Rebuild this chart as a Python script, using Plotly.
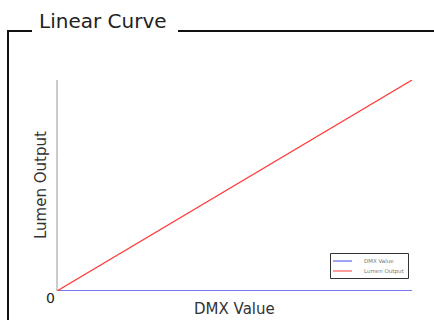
import plotly.graph_objects as go

# DMX input range and corresponding series
dmx_values = [0, 255]
lumen_output = [0, 100]
dmx_series = [0, 0]

series_names = ["DMX Value", "Lumen Output"]
series_colors = ["#4848e8", "#ff3b3b"]
chart_title = "Linear Curve"
x_title = "DMX Value"
y_title = "Lumen Output"
origin_label = "0"

W, H = 434, 320
L, R, T, B = 57, 22, 80, 29
pw, ph = W - L - R, H - T - B


def px_x(px):
    return (px - L) / pw


def px_y(py):
    return (H - B - py) / ph


FONT = "'DejaVu Sans', sans-serif"

fig = go.Figure()
fig.add_trace(go.Scatter(x=dmx_values, y=dmx_series, mode="lines",
                         name=series_names[0], cliponaxis=False,
                         line=dict(color=series_colors[0], width=1.5)))
fig.add_trace(go.Scatter(x=dmx_values, y=lumen_output, mode="lines",
                         name=series_names[1], cliponaxis=False,
                         line=dict(color=series_colors[1], width=1.2)))

frame = dict(color="#111111", width=2)
shapes = [
    # frame around the chart, open where the title sits
    dict(type="line", xref="paper", yref="paper",
         x0=px_x(8), x1=px_x(32), y0=px_y(31), y1=px_y(31), line=frame),
    dict(type="line", xref="paper", yref="paper",
         x0=px_x(178), x1=px_x(440), y0=px_y(31), y1=px_y(31), line=frame),
    dict(type="line", xref="paper", yref="paper",
         x0=px_x(8), x1=px_x(8), y0=px_y(30), y1=px_y(325), line=frame),
    # vertical axis line
    dict(type="line", xref="paper", yref="paper",
         x0=0, x1=0, y0=0, y1=1, line=dict(color="#999999", width=1)),
    # compact legend box
    dict(type="rect", xref="paper", yref="paper",
         x0=px_x(330.5), x1=px_x(408.5), y0=px_y(253.5), y1=px_y(278.5),
         line=dict(color="#333333", width=1), fillcolor="white"),
]

annotations = [
    dict(text=chart_title, xref="paper", yref="paper",
         x=px_x(37), y=px_y(21), xanchor="left", yanchor="middle",
         showarrow=False, font=dict(family=FONT, size=20, color="#222222")),
    dict(text=x_title, xref="paper", yref="paper",
         x=px_x(234), y=px_y(309), xanchor="center", yanchor="middle",
         showarrow=False, font=dict(family=FONT, size=15, color="#333333")),
    dict(text=y_title, xref="paper", yref="paper",
         x=px_x(41), y=px_y(185), xanchor="center", yanchor="middle",
         textangle=-90, showarrow=False,
         font=dict(family=FONT, size=15, color="#333333")),
    dict(text=origin_label, xref="paper", yref="paper",
         x=px_x(50), y=px_y(298), xanchor="center", yanchor="middle",
         showarrow=False, font=dict(family=FONT, size=14, color="#222222")),
]

# legend entries: sample line + label
for i, (name, color) in enumerate(zip(series_names, series_colors)):
    yy = 261 + 10 * i
    shapes.append(dict(type="line", xref="paper", yref="paper",
                       x0=px_x(333), x1=px_x(352), y0=px_y(yy), y1=px_y(yy),
                       line=dict(color=color, width=1)))
    annotations.append(dict(text=name, xref="paper", yref="paper",
                            x=px_x(362), y=px_y(yy), xanchor="left",
                            yanchor="middle", showarrow=False,
                            font=dict(family=FONT, size=5.5, color="#777777")))

fig.update_layout(
    width=W, height=H,
    margin=dict(l=L, r=R, t=T, b=B),
    paper_bgcolor="white", plot_bgcolor="white",
    showlegend=False,
    xaxis=dict(range=[dmx_values[0], dmx_values[-1]], showgrid=False,
               zeroline=False, showticklabels=False, showline=False,
               ticks=""),
    yaxis=dict(range=[0, max(lumen_output)], showgrid=False,
               zeroline=False, showticklabels=False, showline=False,
               ticks=""),
    shapes=shapes,
    annotations=annotations,
)

fig.write_html("out.html")
